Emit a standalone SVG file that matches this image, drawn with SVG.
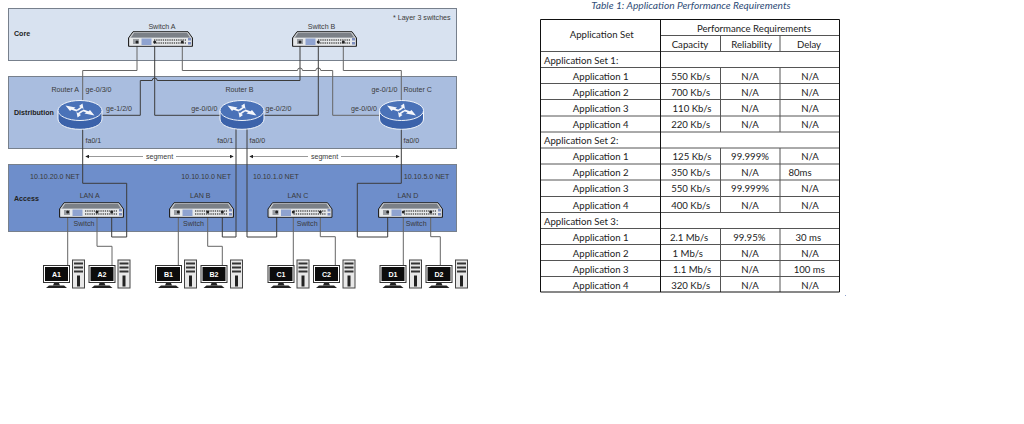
<svg xmlns="http://www.w3.org/2000/svg" width="1024" height="424" viewBox="0 0 1024 424">
<style>
.lb{font-family:"Liberation Sans",Arial,sans-serif;font-size:7.1px;fill:#3a3a3a}
.b{font-weight:bold;fill:#222}
.m{text-anchor:middle}
.band{stroke:#77808c;stroke-width:1}
.w{fill:none;stroke:#3c3c3c;stroke-width:1}
.g{stroke:#666}
.t{font-family:Lato,"Liberation Sans",sans-serif;font-size:9.6px;fill:#222;text-anchor:middle}
.l{text-anchor:start}
.tl{stroke:#111;stroke-width:1;fill:none}
.tg{stroke:#555;stroke-width:1;fill:none}
</style>
<defs>
<marker id="tip" viewBox="0 0 6 6" refX="5" refY="3" markerWidth="4" markerHeight="4" orient="auto-start-reverse"><path d="M0 0L6 3L0 6z" fill="#222"/></marker>
<symbol id="switch" width="65" height="16" viewBox="0 0 65 16" overflow="visible">
<path d="M0.5 7L5 0.7H60L64.5 7V15.3H0.5z" fill="#c9ccd0" stroke="#222" stroke-width="1"/>
<path d="M3 6.5L6 2H59L62 6.5z" fill="#7b8087"/>
<rect x="2" y="7" width="61" height="7.5" fill="#e6e8ea"/>
<rect x="5" y="8" width="6" height="5" fill="#9a9ea3"/>
<rect x="13.500" y="7.500" width="10" height="6.500" fill="#8fa3d0"/>
<path d="M26 9H58M26 12H58" stroke="#555" stroke-width="1.300" stroke-dasharray="1.300 .9"/>
<rect x="60" y="7" width="3" height="2.500" fill="#7e8fc0"/><rect x="60" y="11" width="3" height="2.500" fill="#7e8fc0"/>
</symbol>
<symbol id="router" width="45" height="30" viewBox="0 0 45 30" overflow="visible">
<path d="M0.500 10.500V19C0.500 25 10 29.300 22.500 29.300S44.500 25 44.500 19V10.500z" fill="#3b62aa" stroke="#f0f4fa" stroke-width="1"/>
<ellipse cx="22.500" cy="10.500" rx="22" ry="10" fill="#4a72b8" stroke="#f0f4fa" stroke-width="1"/>
<path d="M8 5.500L18 7.500L16.500 8.800L21 10L19 11.500L14 9.800L12.500 11z M37 15.500L27 13.500L28.500 12.200L24 11L26 9.500L31 11.200L32.500 10z M25 3.500L26 9L24.500 8L21 10.500L19.500 9.500L23 7L21.500 6z M20 17.500L19 12L20.500 13L24 10.500L25.500 11.500L22 14L23.500 15z" fill="#f4f6fb"/>
</symbol>
<symbol id="monitor" width="27" height="23" viewBox="0 0 27 23" overflow="visible">
<rect x="0.500" y="0.500" width="26" height="17" fill="#fff" stroke="#333" stroke-width="1"/>
<rect x="2" y="2" width="23" height="14" fill="#0c0c0c"/>
<path d="M11 18H16L17 20.500H10z" fill="#222"/><path d="M3 23L6 20.500H21L24 23z" fill="#222"/>
</symbol>
<symbol id="tower" width="13" height="29" viewBox="0 0 13 29" overflow="visible">
<rect x="0.500" y="0.500" width="12" height="28" fill="#e8e8e8" stroke="#444" stroke-width="1"/>
<rect x="2" y="3" width="9" height="2" fill="#333"/><rect x="2" y="7" width="9" height="2" fill="#333"/><rect x="2" y="11" width="9" height="2" fill="#333"/>
<rect x="5" y="16" width="3" height="11" fill="#222"/>
</symbol>
</defs>
<rect width="1024" height="424" fill="#fff"/>

<!-- tier bands -->
<g id="bands">
<rect class="band" x="8.500" y="8.500" width="448" height="52" fill="#d8e2f0"/>
<rect class="band" x="8.500" y="76.500" width="448" height="72" fill="#a9bddf"/>
<rect class="band" x="8.500" y="164.500" width="448" height="67" fill="#6e8ecb"/>
<text class="lb b" x="14" y="36">Core</text>
<text class="lb b" x="14" y="115">Distribution</text>
<text class="lb b" x="14" y="201">Access</text>
<text class="lb" x="393" y="19.500">* Layer 3 switches</text>
</g>

<!-- links -->
<g id="connectors">
<path class="w g" d="M137 42V70.500H82.700V112"/>
<path class="w" d="M82.700 122V183.300H126.700V237H111.700V212"/>
<path class="w" d="M154.700 42V115.300H222"/>
<path class="w" d="M100 115.300H140.300V80.500H152.200A2.500 2.500 0 0 1 157.200 80.500H300V42"/>
<path class="w g" d="M182.300 42V70.500H297.500A2.500 2.500 0 0 1 302.500 70.500H315.800A2.500 2.500 0 0 1 320.800 70.500H332.700V115.300H382"/>
<path class="w" d="M318.300 42V115.300H262"/>
<path class="w g" d="M343.300 42V70.500H401.300V105"/>
<path class="w" d="M236 125V237H222.300V212"/>
<path class="w" d="M247 125V237H276.700V212"/>
<path class="w" d="M401.300 125V183.300H357.300V237H387.700V212"/>
<path class="w g" d="M67.700 212V265M97 212V246.300H112V265"/>
<path class="w g" d="M178.300 212V265M207.700 212V246.300H222.300V265"/>
<path class="w g" d="M293.300 212V265M320.300 212V236.700H335.300V265"/>
<path class="w g" d="M403.300 212V265M430.700 212V236.700H440.300V265"/>
<g fill="#222">
<circle cx="137" cy="42" r="1.500"/><circle cx="154.700" cy="42" r="1.500"/><circle cx="182.300" cy="42" r="1.500"/>
<circle cx="300" cy="42" r="1.500"/><circle cx="318.300" cy="42" r="1.500"/><circle cx="343.300" cy="42" r="1.500"/>
</g>
<g stroke="#999" stroke-width="1" fill="none" marker-start="url(#tip)" marker-end="url(#tip)">
<path d="M86 156.500H233"/><path d="M250 156.500H399"/>
</g>
<rect x="143" y="152" width="33" height="9" fill="#fff"/><rect x="308" y="152" width="33" height="9" fill="#fff"/>
<text class="lb m" x="159.500" y="159">segment</text>
<text class="lb m" x="324.500" y="159">segment</text>
</g>

<!-- core switches -->
<g id="switch-a"><use href="#switch" x="128" y="31"/><circle cx="137" cy="42" r="1.500" fill="#222"/><circle cx="154.700" cy="42" r="1.500" fill="#222"/><circle cx="182.300" cy="42" r="1.500" fill="#222"/><text class="lb m" x="162" y="28.500">Switch A</text></g>
<g id="switch-b"><use href="#switch" x="292" y="31"/><circle cx="300" cy="42" r="1.500" fill="#222"/><circle cx="318.300" cy="42" r="1.500" fill="#222"/><circle cx="343.300" cy="42" r="1.500" fill="#222"/><text class="lb m" x="321.500" y="28.500">Switch B</text></g>

<!-- distribution routers -->
<g id="router-a"><use href="#router" x="57.500" y="100"/><text class="lb" x="51.500" y="91.500">Router A</text><text class="lb" x="85.500" y="91.500">ge-0/3/0</text><text class="lb" x="106" y="110.500">ge-1/2/0</text><text class="lb" x="85.500" y="142.500">fa0/1</text></g>
<g id="router-b"><use href="#router" x="219.500" y="100"/><text class="lb" x="225.500" y="91.500">Router B</text><text class="lb" x="191.300" y="110.500">ge-0/0/0</text><text class="lb" x="265.500" y="110.500">ge-0/2/0</text><text class="lb" x="217.300" y="142.500">fa0/1</text><text class="lb" x="249.500" y="142.500">fa0/0</text></g>
<g id="router-c"><use href="#router" x="379" y="100"/><text class="lb" x="371.500" y="91.500">ge-0/1/0</text><text class="lb" x="403.500" y="91.500">Router C</text><text class="lb" x="351" y="110.500">ge-0/0/0</text><text class="lb" x="403.500" y="142.500">fa0/0</text></g>

<!-- access LANs -->
<g id="lan-a"><use href="#switch" x="59" y="202"/><circle cx="67.700" cy="212" r="1.500" fill="#222"/><circle cx="97" cy="212" r="1.500" fill="#222"/><circle cx="111.700" cy="212" r="1.500" fill="#222"/><text class="lb" x="30" y="178.500">10.10.20.0 NET</text><text class="lb m" x="89.700" y="198.200">LAN A</text><text class="lb" x="73.500" y="226">Switch</text></g>
<g id="lan-b"><use href="#switch" x="169" y="202"/><circle cx="178.300" cy="212" r="1.500" fill="#222"/><circle cx="207.700" cy="212" r="1.500" fill="#222"/><circle cx="222.300" cy="212" r="1.500" fill="#222"/><text class="lb" x="181.300" y="178.500">10.10.10.0 NET</text><text class="lb m" x="200.300" y="198.200">LAN B</text><text class="lb" x="183" y="226">Switch</text></g>
<g id="lan-c"><use href="#switch" x="267.500" y="202"/><circle cx="276.700" cy="212" r="1.500" fill="#222"/><circle cx="293.300" cy="212" r="1.500" fill="#222"/><circle cx="320.300" cy="212" r="1.500" fill="#222"/><text class="lb" x="253" y="178.500">10.10.1.0 NET</text><text class="lb m" x="298" y="198.200">LAN C</text><text class="lb" x="296.700" y="226">Switch</text></g>
<g id="lan-d"><use href="#switch" x="378" y="202"/><circle cx="387.700" cy="212" r="1.500" fill="#222"/><circle cx="403.300" cy="212" r="1.500" fill="#222"/><circle cx="430.700" cy="212" r="1.500" fill="#222"/><text class="lb" x="403.700" y="178.500">10.10.5.0 NET</text><text class="lb m" x="408" y="198.200">LAN D</text><text class="lb" x="405.700" y="226">Switch</text></g>

<!-- workstations -->
<g id="pc-a1"><use href="#monitor" x="43" y="265"/><use href="#tower" x="72" y="259.500"/><text class="lb b m" x="56.500" y="277" style="fill:#fff">A1</text></g>
<g id="pc-a2"><use href="#monitor" x="88.500" y="265"/><use href="#tower" x="117.500" y="259.500"/><text class="lb b m" x="102" y="277" style="fill:#fff">A2</text></g>
<g id="pc-b1"><use href="#monitor" x="155" y="265"/><use href="#tower" x="184" y="259.500"/><text class="lb b m" x="168.500" y="277" style="fill:#fff">B1</text></g>
<g id="pc-b2"><use href="#monitor" x="200.500" y="265"/><use href="#tower" x="230" y="259.500"/><text class="lb b m" x="214" y="277" style="fill:#fff">B2</text></g>
<g id="pc-c1"><use href="#monitor" x="267.500" y="265"/><use href="#tower" x="296.500" y="259.500"/><text class="lb b m" x="281" y="277" style="fill:#fff">C1</text></g>
<g id="pc-c2"><use href="#monitor" x="313" y="265"/><use href="#tower" x="342.500" y="259.500"/><text class="lb b m" x="326.500" y="277" style="fill:#fff">C2</text></g>
<g id="pc-d1"><use href="#monitor" x="379.500" y="265"/><use href="#tower" x="409" y="259.500"/><text class="lb b m" x="393" y="277" style="fill:#fff">D1</text></g>
<g id="pc-d2"><use href="#monitor" x="425.500" y="265"/><use href="#tower" x="455" y="259.500"/><text class="lb b m" x="439" y="277" style="fill:#fff">D2</text></g>

<!-- requirements table -->
<g id="table">
<text class="t" x="691" y="8.500" style="font-style:italic;fill:#2f4d78;font-size:10.200px">Table 1: Application Performance Requirements</text>
<path class="tg" d="M660.500 35.500H839.500M540.500 51.500H839.500M540.500 67.500H839.500M540.500 83.500H839.500M540.500 99.500H839.500M540.500 116H839.500M540.500 132H839.500M540.500 148H839.500M540.500 164H839.500M540.500 180H839.500M540.500 196.500H839.500M540.500 212.500H839.500M540.500 228.500H839.500M540.500 244.500H839.500M540.500 260.500H839.500M540.500 276.500H839.500"/>
<path class="tg" d="M720.500 35.500V51.500M780 35.500V51.500M720.500 67.500V132M780 67.500V132M720.500 148V212.500M780 148V212.500M720.500 228.500V292M780 228.500V292"/>
<path class="tl" d="M540.500 19.500H839.500V292H540.500zM660.500 19.500V292"/>
<text class="t" x="601.700" y="38">Application Set</text>
<text class="t" x="754" y="31.500">Performance Requirements</text>
<text class="t" x="690" y="47.500">Capacity</text><text class="t" x="751.700" y="47.500">Reliability</text><text class="t" x="809" y="47.500">Delay</text>
<text class="t l" x="544" y="63.500">Application Set 1:</text>
<text class="t" x="600.700" y="80">Application 1</text><text class="t" x="690.700" y="80">550 Kb/s</text><text class="t" x="750" y="80">N/A</text><text class="t" x="810" y="80">N/A</text>
<text class="t" x="600.700" y="96">Application 2</text><text class="t" x="690.700" y="96">700 Kb/s</text><text class="t" x="750" y="96">N/A</text><text class="t" x="810" y="96">N/A</text>
<text class="t" x="600.700" y="112">Application 3</text><text class="t" x="692" y="112">110 Kb/s</text><text class="t" x="750" y="112">N/A</text><text class="t" x="810" y="112">N/A</text>
<text class="t" x="600.700" y="128">Application 4</text><text class="t" x="690.700" y="128">220 Kb/s</text><text class="t" x="750" y="128">N/A</text><text class="t" x="810" y="128">N/A</text>
<text class="t l" x="544" y="144">Application Set 2:</text>
<text class="t" x="600.700" y="160">Application 1</text><text class="t" x="692" y="160">125 Kb/s</text><text class="t" x="750" y="160">99.999%</text><text class="t" x="810" y="160">N/A</text>
<text class="t" x="600.700" y="176">Application 2</text><text class="t" x="690.700" y="176">350 Kb/s</text><text class="t" x="750" y="176">N/A</text><text class="t" x="800" y="176">80ms</text>
<text class="t" x="600.700" y="192">Application 3</text><text class="t" x="690.700" y="192">550 Kb/s</text><text class="t" x="750" y="192">99.999%</text><text class="t" x="810" y="192">N/A</text>
<text class="t" x="600.700" y="208.500">Application 4</text><text class="t" x="690.700" y="208.500">400 Kb/s</text><text class="t" x="750" y="208.500">N/A</text><text class="t" x="810" y="208.500">N/A</text>
<text class="t l" x="544" y="224.500">Application Set 3:</text>
<text class="t" x="600.700" y="241">Application 1</text><text class="t" x="689" y="241">2.1 Mb/s</text><text class="t" x="749.300" y="241">99.95%</text><text class="t" x="808.300" y="241">30 ms</text>
<text class="t" x="600.700" y="257">Application 2</text><text class="t" x="687.700" y="257">1 Mb/s</text><text class="t" x="750" y="257">N/A</text><text class="t" x="810" y="257">N/A</text>
<text class="t" x="600.700" y="273">Application 3</text><text class="t" x="692" y="273">1.1 Mb/s</text><text class="t" x="750" y="273">N/A</text><text class="t" x="809.300" y="273">100 ms</text>
<text class="t" x="600.700" y="289">Application 4</text><text class="t" x="690.700" y="289">320 Kb/s</text><text class="t" x="750" y="289">N/A</text><text class="t" x="810" y="289">N/A</text>
<rect x="845" y="295" width="1" height="1" fill="#8fa3d0"/>
</g>
</svg>
